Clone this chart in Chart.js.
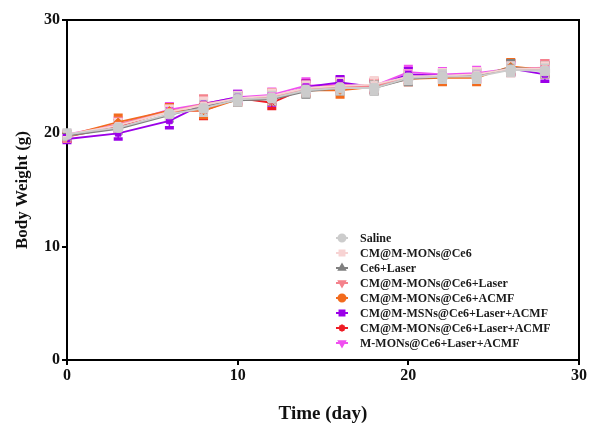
<!DOCTYPE html>
<html>
<head>
<meta charset="utf-8">
<script src="https://cdn.jsdelivr.net/npm/chart.js@4"></script>
<style>
html,body{margin:0;padding:0;background:#fff;}
#wrap{width:594px;height:429px;position:relative;}
</style>
</head>
<body>
<div id="wrap"><canvas id="c" width="594" height="429"></canvas></div>
<script>
const days = [0, 3, 6, 8, 10, 12, 14, 16, 18, 20, 22, 24, 26, 28];
const seriesNames = [
  "Saline",
  "CM@M-MONs@Ce6",
  "Ce6+Laser",
  "CM@M-MONs@Ce6+Laser",
  "CM@M-MONs@Ce6+ACMF",
  "CM@M-MSNs@Ce6+Laser+ACMF",
  "CM@M-MONs@Ce6+Laser+ACMF",
  "M-MONs@Ce6+Laser+ACMF"
];
const saline       = [19.9, 20.5, 21.7, 22.2, 23.0, 23.1, 23.8, 24.0, 24.0, 24.9, 25.0, 25.0, 25.6, 25.5];
const cmMons       = [19.9, 20.7, 21.9, 22.5, 23.1, 23.3, 24.0, 24.2, 24.3, 25.0, 25.1, 25.2, 25.7, 25.7];
const ce6Laser     = [19.8, 20.4, 21.6, 22.4, 22.9, 23.0, 23.7, 24.0, 24.0, 24.8, 25.0, 25.1, 25.8, 25.6];
const cmMonsLaser  = [19.7, 20.8, 21.9, 22.6, 23.0, 23.2, 23.9, 24.1, 24.2, 24.9, 25.0, 25.2, 25.6, 25.8];
const cmMonsAcmf   = [19.8, 21.0, 22.0, 22.0, 23.0, 23.2, 23.8, 23.8, 24.1, 24.8, 24.9, 24.9, 25.9, 25.6];
const cmMsnsLA     = [19.5, 20.0, 21.1, 22.6, 23.2, 23.0, 24.1, 24.5, 24.1, 25.2, 25.1, 25.1, 25.7, 25.2];
const cmMonsLA     = [19.7, 20.6, 22.0, 22.0, 23.1, 22.7, 24.0, 24.2, 24.2, 25.0, 25.0, 25.0, 25.8, 25.6];
const mMonsLA      = [19.9, 20.8, 22.1, 22.6, 23.2, 23.4, 24.2, 24.3, 24.2, 25.4, 25.2, 25.3, 25.7, 25.8];

const salineErr      = [0.4, 0.5, 0.5, 0.6, 0.5, 0.5, 0.5, 0.5, 0.5, 0.5, 0.5, 0.5, 0.5, 0.5];
const cmMonsErr      = [0.3, 0.5, 0.5, 0.6, 0.5, 0.5, 0.5, 0.6, 0.6, 0.5, 0.5, 0.5, 0.5, 0.5];
const ce6LaserErr    = [0.3, 0.4, 0.5, 0.5, 0.4, 0.4, 0.5, 0.5, 0.5, 0.5, 0.4, 0.5, 0.6, 0.6];
const cmMonsLaserErr = [0.4, 0.5, 0.5, 0.7, 0.5, 0.6, 0.6, 0.5, 0.6, 0.6, 0.5, 0.5, 0.5, 0.6];
const cmMonsAcmfErr  = [0.3, 0.6, 0.5, 0.6, 0.5, 0.6, 0.5, 0.6, 0.5, 0.5, 0.6, 0.6, 0.6, 0.5];
const cmMsnsLAErr    = [0.3, 0.5, 0.6, 0.6, 0.5, 0.5, 0.5, 0.5, 0.5, 0.5, 0.5, 0.5, 0.5, 0.6];
const cmMonsLAErr    = [0.4, 0.5, 0.5, 0.7, 0.5, 0.5, 0.6, 0.5, 0.5, 0.5, 0.5, 0.5, 0.6, 0.6];
const mMonsLAErr     = [0.3, 0.5, 0.5, 0.5, 0.5, 0.5, 0.6, 0.6, 0.5, 0.5, 0.5, 0.5, 0.5, 0.6];

const xTicks = [0, 10, 20, 30];
const yTicks = [0, 10, 20, 30];

const seriesValues = [saline, cmMons, ce6Laser, cmMonsLaser, cmMonsAcmf, cmMsnsLA, cmMonsLA, mMonsLA];
const seriesErrors = [salineErr, cmMonsErr, ce6LaserErr, cmMonsLaserErr, cmMonsAcmfErr, cmMsnsLAErr, cmMonsLAErr, mMonsLAErr];
const colors = ['#cccccc', '#f7d3d3', '#808080', '#f4828c', '#f26b1d', '#9b00e8', '#ee1c24', '#f050f0'];
const pStyles = ['rectRounded', 'rect', 'triangle', 'triangle', 'rectRot', 'rect', 'star', 'triangle'];
const legendStyles = ['circle', 'rect', 'triangle', 'triangle', 'circle', 'rect', 'star', 'triangle'];
const pRot = [0, 0, 0, 180, 0, 0, 0, 180];
const pRad = [5.5, 4, 4, 4, 4, 4, 4, 4];

const datasets = seriesNames.map((name, i) => ({
  label: name,
  data: days.map((d, k) => ({ x: d, y: seriesValues[i][k] })),
  errs: seriesErrors[i],
  legendStyle: legendStyles[i],
  borderColor: colors[i],
  backgroundColor: colors[i],
  borderWidth: 1.8,
  pointStyle: pStyles[i],
  rotation: pRot[i],
  pointRadius: pRad[i],
  pointBorderWidth: 1,
  tension: 0,
  fill: false
}));

const SERIF = "'Liberation Serif', 'Times New Roman', serif";

const errorBars = {
  id: 'errorBars',
  beforeDatasetsDraw(chart) {
    const ctx = chart.ctx;
    const ys = chart.scales.y, xs = chart.scales.x;
    for (let i = chart.data.datasets.length - 1; i >= 0; i--) {
      const ds = chart.data.datasets[i];
      ctx.save();
      ctx.strokeStyle = ds.borderColor;
      ds.data.forEach((p, k) => {
        const e = ds.errs[k];
        const px = xs.getPixelForValue(p.x);
        const top = ys.getPixelForValue(p.y + e);
        const bot = ys.getPixelForValue(p.y - e);
        ctx.lineWidth = 1.5;
        ctx.beginPath(); ctx.moveTo(px, top); ctx.lineTo(px, bot); ctx.stroke();
        ctx.lineWidth = 3.5;
        ctx.beginPath();
        ctx.moveTo(px - 4.5, top); ctx.lineTo(px + 4.5, top);
        ctx.moveTo(px - 4.5, bot); ctx.lineTo(px + 4.5, bot);
        ctx.stroke();
      });
      ctx.restore();
    }
  }
};

const frameAndLegend = {
  id: 'frameAndLegend',
  afterDraw(chart) {
    const ctx = chart.ctx;
    const a = chart.chartArea;
    ctx.save();
    ctx.strokeStyle = '#000';
    ctx.lineWidth = 2;
    ctx.beginPath();
    ctx.moveTo(a.left - 1, a.top);
    ctx.lineTo(a.right, a.top);
    ctx.lineTo(a.right, a.bottom);
    ctx.stroke();

    // legend
    const lx = a.left + 275, ly0 = a.top + 218, dy = 15;
    chart.data.datasets.forEach((ds, i) => {
      const y = ly0 + i * dy;
      ctx.strokeStyle = ds.borderColor;
      ctx.lineWidth = 2;
      ctx.beginPath(); ctx.moveTo(lx - 6, y); ctx.lineTo(lx + 6, y); ctx.stroke();
      ctx.fillStyle = ds.backgroundColor;
      Chart.helpers.drawPoint(ctx, {
        pointStyle: ds.legendStyle, rotation: ds.rotation,
        radius: 3.5, borderWidth: 1
      }, lx, y);
      ctx.fillStyle = '#1a1a1a';
      ctx.font = "bold 12px " + SERIF;
      ctx.textBaseline = 'middle';
      ctx.textAlign = 'left';
      ctx.fillText(ds.label, lx + 18, y + 1);
    });
    ctx.restore();
  }
};

new Chart(document.getElementById('c'), {
  type: 'line',
  data: { datasets },
  plugins: [errorBars, frameAndLegend],
  options: {
    responsive: false,
    animation: false,
    layout: { padding: { top: 20, right: 15, left: 0, bottom: 0 } },
    plugins: { legend: { display: false }, tooltip: { enabled: false } },
    scales: {
      x: {
        type: 'linear', min: 0, max: 30,
        afterBuildTicks(s) { s.ticks = xTicks.map(v => ({ value: v })); },
        afterFit(s) { s.height = 69; },
        border: { display: true, color: '#000', width: 2 },
        grid: { drawOnChartArea: false, drawTicks: true, tickLength: 5, color: '#000', lineWidth: 2 },
        ticks: { color: '#111', padding: 1, font: { family: SERIF, size: 16, weight: 'bold' } },
        title: { display: true, text: 'Time (day)', color: '#111', padding: { top: 6 },
                 font: { family: SERIF, size: 19, weight: 'bold' } }
      },
      y: {
        min: 0, max: 30,
        afterBuildTicks(s) { s.ticks = yTicks.map(v => ({ value: v })); },
        afterFit(s) { s.width = 67; },
        border: { display: true, color: '#000', width: 2 },
        grid: { drawOnChartArea: false, drawTicks: true, tickLength: 5, color: '#000', lineWidth: 2 },
        ticks: { color: '#111', padding: 2, font: { family: SERIF, size: 16, weight: 'bold' } },
        title: { display: true, text: 'Body Weight (g)', color: '#111', padding: { top: 12, bottom: 0 },
                 font: { family: SERIF, size: 17, weight: 'bold' } }
      }
    }
  }
});
</script>
</body>
</html>
